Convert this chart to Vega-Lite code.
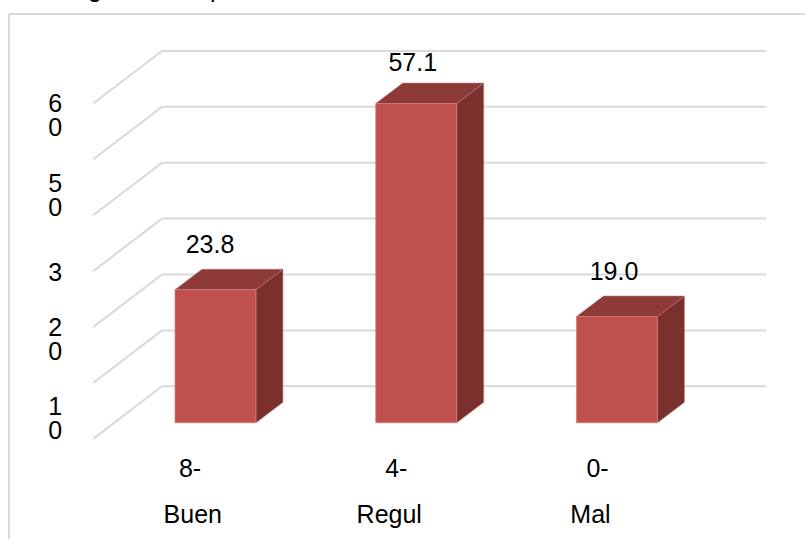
{
"$schema":"https://vega.github.io/schema/vega-lite/v6.json",
"width":806,"height":540,
"autosize":{"type":"fit","contains":"padding"},
"padding":0,
"background":"#ffffff",
"view":{"stroke":null},
"datasets":{
 "bars":[{"cat":"Buen","code":"8-","idx":0,"value":23.8},{"cat":"Regul","code":"4-","idx":1,"value":57.1},{"cat":"Mal","code":"0-","idx":2,"value":19.0}],
 "grid":[{"g":0},{"g":10},{"g":20},{"g":30},{"g":40},{"g":50},{"g":60}],
 "ylab":[{"label":"6\n0","pos":57.05},{"label":"5\n0","pos":42.68},{"label":"3","pos":26.7},{"label":"2\n0","pos":16.87},{"label":"1\n0","pos":2.77}],
 "head":[{"label":"g","at":-0.6}, {"label":"p","at":0.008}]
},
"encoding":{
 "x":{"type":"quantitative","scale":{"domain":[-1.0733,2.9366],"nice":false,"zero":false},"axis":null},
 "y":{"type":"quantitative","scale":{"domain":[-20.8,75.63],"nice":false,"zero":false},"axis":null}
},
"layer":[
 {"data":{"values":[{"f":1}]},"mark":{"type":"rule","stroke":"#d9d9d9","strokeWidth":2},
  "encoding":{"x":{"datum":-1.0286,"type":"quantitative"},"y":{"datum":73.13,"type":"quantitative"},"y2":{"datum":-20.8}}},
 {"data":{"values":[{"f":1}]},"mark":{"type":"rule","stroke":"#d9d9d9","strokeWidth":2},
  "encoding":{"x":{"datum":-1.0286,"type":"quantitative"},"x2":{"datum":2.9366},"y":{"datum":73.13,"type":"quantitative"}}},
 {"data":{"name":"grid"},"transform":[{"calculate":"datum.g-2.893","as":"yf"},{"calculate":"datum.g+6.518","as":"yb"}],
  "mark":{"type":"rule","stroke":"#d9d9d9","strokeWidth":2},
  "encoding":{"x":{"datum":-0.6095,"type":"quantitative"},"x2":{"datum":-0.2662},"y":{"field":"yf"},"y2":{"field":"yb"}}},
 {"data":{"name":"grid"},"transform":[{"calculate":"datum.g+6.518","as":"yb"}],
  "mark":{"type":"rule","stroke":"#d9d9d9","strokeWidth":2},
  "encoding":{"x":{"datum":-0.2662,"type":"quantitative"},"x2":{"datum":2.7438},"y":{"field":"yb"}}},
 {"data":{"name":"bars"},"transform":[{"calculate":"[0,1]","as":"d"},{"flatten":["d"]},
   {"calculate":"datum.idx+0.2015+datum.d*0.1343","as":"xs"},{"calculate":"datum.value+datum.d*3.66","as":"yt"},{"calculate":"datum.d*3.66","as":"yl"}],
  "mark":{"type":"area","orient":"vertical","fill":"#7B302E","stroke":"#a87270","strokeWidth":0.6,"opacity":1},
  "encoding":{"x":{"field":"xs"},"y":{"field":"yt"},"y2":{"field":"yl"},"detail":{"field":"cat"}}},
 {"data":{"name":"bars"},"transform":[{"calculate":"[0,1,2,3]","as":"d"},{"flatten":["d"]},
   {"calculate":"datum.idx-0.2015+[0,0.1343,0.403,0.5373][datum.d]","as":"xs"},
   {"calculate":"datum.value+[0,3.66,3.66,3.66][datum.d]","as":"yt"},
   {"calculate":"datum.value+[0,0,0,3.66][datum.d]","as":"yl"}],
  "mark":{"type":"area","orient":"vertical","fill":"#8E3A38","stroke":"#b07a78","strokeWidth":0.6},
  "encoding":{"x":{"field":"xs"},"y":{"field":"yt"},"y2":{"field":"yl"},"detail":{"field":"cat"}}},
 {"data":{"name":"bars"},"transform":[{"calculate":"datum.idx-0.2015","as":"x0"},{"calculate":"datum.idx+0.2015","as":"x1"}],
  "mark":{"type":"rect","fill":"#C0504D","stroke":"#d27e7b","strokeWidth":0.8},
  "encoding":{"x":{"field":"x0"},"x2":{"field":"x1"},"y":{"field":"value"},"y2":{"datum":0}}},
 {"data":{"name":"bars"},"transform":[{"calculate":"datum.value+[8.0,7.3,7.9][datum.idx]","as":"ly"},{"calculate":"datum.idx+[-0.0274,-0.0174,-0.0149][datum.idx]","as":"lx"},{"calculate":"format(datum.value,'.1f')","as":"txt"}],
  "mark":{"type":"text","font":"Liberation Sans","fontSize":25,"fill":"#000000","align":"center","baseline":"middle"},
  "encoding":{"x":{"field":"lx"},"y":{"field":"ly"},"text":{"field":"txt"}}},
 {"data":{"name":"bars"},"transform":[{"calculate":"datum.idx+[-0.1269,-0.0995,-0.0970][datum.idx]","as":"lx"},{"calculate":"-8.3","as":"ly"}],
  "mark":{"type":"text","font":"Liberation Sans","fontSize":25,"fill":"#000000","align":"center","baseline":"middle"},
  "encoding":{"x":{"field":"lx"},"y":{"field":"ly"},"text":{"field":"code"}}},
 {"data":{"name":"bars"},"transform":[{"calculate":"datum.idx+[-0.1129,-0.1343,-0.1318][datum.idx]","as":"lx"},{"calculate":"-16.5","as":"ly"}],
  "mark":{"type":"text","font":"Liberation Sans","fontSize":25,"fill":"#000000","align":"center","baseline":"middle"},
  "encoding":{"x":{"field":"lx"},"y":{"field":"ly"},"text":{"field":"cat"}}},
 {"data":{"name":"ylab"},
  "mark":{"type":"text","font":"Liberation Sans","fontSize":25,"fill":"#000000","align":"center","baseline":"middle","lineBreak":"\n","lineHeight":24},
  "encoding":{"x":{"datum":-0.7985,"type":"quantitative"},"y":{"field":"pos"},"text":{"field":"label"}}},
 {"data":{"name":"head"},"transform":[{"calculate":"76.16","as":"ly"}],
  "mark":{"type":"text","font":"Liberation Sans","fontSize":25,"fill":"#000000","align":"center","baseline":"alphabetic","clip":true},
  "encoding":{"x":{"field":"at"},"y":{"field":"ly"},"text":{"field":"label"}}}
]
}
